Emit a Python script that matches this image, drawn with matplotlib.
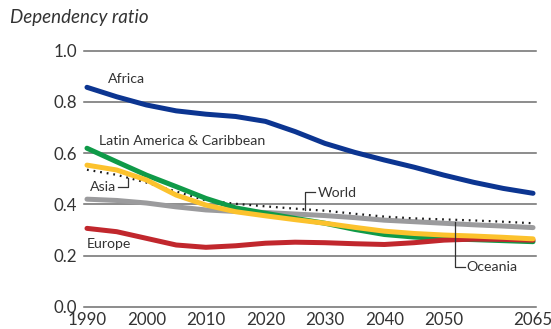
import matplotlib
matplotlib.use("Agg")
import matplotlib.pyplot as plt

plt.rcParams['font.family'] = ['Lato', 'DejaVu Sans']

years = [1990, 1995, 2000, 2005, 2010, 2015, 2020, 2025, 2030,
         2035, 2040, 2045, 2050, 2055, 2060, 2065]

africa = [0.857, 0.820, 0.788, 0.765, 0.752, 0.743, 0.724, 0.684, 0.638,
          0.603, 0.573, 0.545, 0.514, 0.486, 0.462, 0.443]
latin_america = [0.619, 0.566, 0.514, 0.469, 0.423, 0.386, 0.365, 0.345, 0.326,
                 0.302, 0.282, 0.272, 0.265, 0.262, 0.258, 0.254]
asia = [0.553, 0.534, 0.495, 0.436, 0.397, 0.371, 0.355, 0.340, 0.326,
        0.310, 0.295, 0.286, 0.280, 0.276, 0.271, 0.265]
oceania = [0.420, 0.415, 0.405, 0.390, 0.378, 0.372, 0.368, 0.362, 0.356,
           0.348, 0.338, 0.332, 0.326, 0.320, 0.315, 0.309]
world = [0.535, 0.515, 0.485, 0.450, 0.415, 0.402, 0.392, 0.383, 0.375,
         0.363, 0.352, 0.345, 0.341, 0.337, 0.332, 0.326]
europe = [0.306, 0.293, 0.267, 0.241, 0.232, 0.238, 0.248, 0.252, 0.250,
          0.246, 0.243, 0.250, 0.260, 0.264, 0.263, 0.260]

xticks = [1990, 2000, 2010, 2020, 2030, 2040, 2050, 2065]
yticks = [0.0, 0.2, 0.4, 0.6, 0.8, 1.0]

fig = plt.figure(figsize=(5.51, 3.29), dpi=100)
# axes spans x 84..536 px, y 50.7..306.7 px
ax = fig.add_axes([84 / 551, 1 - 306.7 / 329, 452 / 551, 256 / 329])

lw = 3.6
common = dict(solid_capstyle='round', solid_joinstyle='round', clip_on=False)
ax.plot(years, oceania, color='#9b9b9d', lw=lw, zorder=3, **common)
ax.plot(years, world, color='#1a1a1a', lw=1.6, ls=(0, (0.8, 2.2)),
        dash_capstyle='butt', zorder=4, clip_on=False)
ax.plot(years, latin_america, color='#0f9a48', lw=lw, zorder=5, **common)
ax.plot(years, europe, color='#c1272d', lw=lw, zorder=6, **common)
ax.plot(years, asia, color='#fcc22d', lw=lw, zorder=7, **common)
ax.plot(years, africa, color='#0c3591', lw=lw, zorder=8, **common)

ax.set_xlim(1989.5, 2065.5)
ax.set_ylim(0, 1.0)
for y in yticks:
    ax.axhline(y, color='#6d6d6d', lw=1.1, zorder=1, clip_on=False)
for s in ax.spines.values():
    s.set_visible(False)

ax.set_xticks(xticks)
ax.set_xticklabels([str(x) for x in xticks])
ax.set_yticks(yticks)
ax.set_yticklabels([f"{y:.1f}" for y in yticks])
ax.tick_params(length=0, labelsize=12.2, labelcolor='#333333')
ax.tick_params(axis='x', pad=4)
ax.tick_params(axis='y', pad=5)

fig.text(10 / 551, 1 - 18 / 329, "Dependency ratio", fontsize=13.5, style='italic',
         color='#333333', va='center', ha='left')

lab = dict(fontsize=10.2, color='#333333', va='center', ha='left')
ax.text(1993.5, 0.889, "Africa", **lab)
ax.text(1992.0, 0.647, "Latin America & Caribbean", **lab)
ax.text(1990.5, 0.469, "Asia", **lab)
ax.text(1990.0, 0.245, "Europe", **lab)
ax.text(2028.8, 0.443, "World", **lab)
ax.text(2053.8, 0.156, "Oceania", **lab)

lead = dict(color='#333333', lw=0.9, zorder=9, clip_on=False)
ax.plot([1995.3, 1996.85, 1996.85], [0.469, 0.469, 0.502], **lead)
ax.plot([2026.7, 2026.7, 2028.3], [0.378, 0.449, 0.449], **lead)
ax.plot([2051.8, 2051.8, 2053.5], [0.332, 0.156, 0.156], **lead)

fig.savefig("out.png", dpi=100)
